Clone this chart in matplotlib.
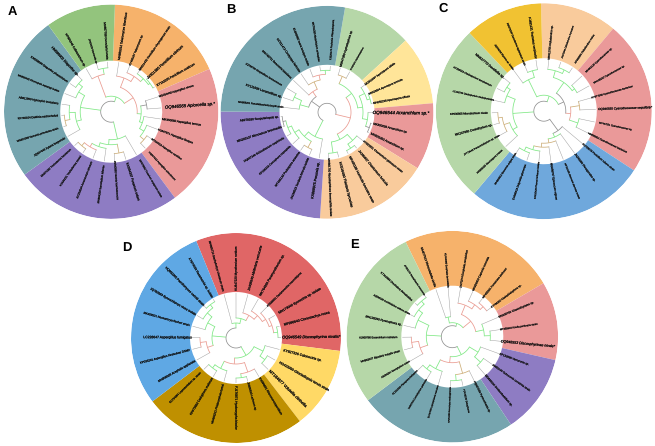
import numpy as np
import matplotlib
matplotlib.use("Agg")
import matplotlib.pyplot as plt
import matplotlib.patheffects as pe
from matplotlib.textpath import TextPath
from matplotlib.font_manager import FontProperties

plt.rcParams["text.hinting"] = "no_hinting"
plt.rcParams["text.hinting_factor"] = 1

W, H, DPI = 655, 446, 100

ORANGE, PINK, PURPLE, TEAL, GREEN = "#f6b26b", "#ea9999", "#8e7cc3", "#76a5af", "#93c47d"
PALE, YELLOW, PEACH, BLUE, AMBER = "#b6d7a8", "#ffe599", "#f9cb9c", "#6fa8dc", "#f1c232"
RED, GOLD, SUN, SKY = "#e06666", "#bf9000", "#ffd966", "#5fa8e4"
BRANCH = {"g": "#7fe884", "r": "#ea9a90", "k": "#909090", "o": "#cdae78"}

# ---- Panel A ----
CENTER_A, OUTER_A, INNER_A = (111.2, 111.7), 107.2, 51
EDGES_A = [88, 23.5, -53.5, -144, -234, -272]
COLORS_A = [ORANGE, PINK, PURPLE, TEAL, GREEN]
ANGLES_A = [81.3, 68, 55.5, 42.6, 29.7, 17.6, 4.3, -8.4, -20.9, -34, -47, -59.6, -72.9, -85.8,
            -98, -111.4, -124.5, -137.2, -150.3, -162.6, -175.8, 171.3, 158.6, 145.6, 132.7, 120.2, 107, 94.3]
TIPS_A = [99.5, 84.5, 105, 99.6, 95, 88, 102, 91, 89, 88, 90, 95, 91, 91,
          90, 91, 88, 92, 87.5, 95, 92, 92, 96, 96, 90, 89.5, 78, 89]
LABELS_A = ["MH855012 Talaromyces islandicus", "KY495187 Talaromyces sp.", "MN511432 Penicillium chrysogenum strain",
            "JX501385 Penicillium citrinum", "KT192205 Penicillium oxalicum", "MG250430 Aspergillus niveus",
            "OQ946565 Apiorcella sp.*", "MK450660 Aspergillus terreus", "KU847871 Aspergillus flavipes",
            "MT530018 Aspergillus candidus", "HQ607922 Aspergillus sclerotiorum", "MF078652 Fusarium oxysporum isolate",
            "KX034337 Fusarium solani", "JN942882 Nectria haematococca", "MH864200 Sarocladium kiliense",
            "KC254034 Acremonium strictum", "KJ439131 Trichoderma reesei", "MK871382 Trichoderma harzianum",
            "JQ647449 Xylaria feejeensis", "MG807389 Nemania primolutea strain", "KF746104 Daldinia eschscholtzii",
            "AB811950 Hypoxylon investiens", "MN856402 Phomopsis asparagi isolate", "KM268690 Diaporthe phaseolorum",
            "HM999902 Diaporthe sp.", "KP900246 Colletotrichum sp.", "JF502429 Glomerella sp.", "MH857788 Curvularia lunata"]
TREE_A = [10.5, "k", [
    [28, "g", [11, [33, "g", [[42, "o", [12, 13]], [37, "g", [14, [41, "r", [15, [45, "o", [16, 17]]]]]]]]]],
    [31, "g", [[36, "g", [18, [42, "g", [[47, "o", [19, 20]], 21]]]], [38, "g", [22, [43, "g", [23, 24]]]]]],
    [15.5, "g", [[38, "r", [25, [44, "g", [26, 27]]]],
                 [26, "r", [[36, "r", [0, [42, "r", [1, [46, "g", [2, [48, "g", [3, 4]]]]]]]],
                            [30, "g", [[36, "k", [5, 6]], [33, "g", [7, [38, "g", [8, [43, "o", [9, 10]]]]]]]]]]]]]]
FOCUS_A = 6

# ---- Panel B ----
CENTER_B, OUTER_B, INNER_B = (327, 112.3), 106.5, 47.5
EDGES_B = [80.2, 42.4, 4.9, -31.7, -93.8, -180.4, -279.8]
COLORS_B = [PALE, YELLOW, PINK, PEACH, PURPLE, TEAL]
ANGLES_B = [73.3, 60.7, 35.9, 23.6, 11, -0.5, -14, -25.9, -38.4, -50.4, -62.9, -75.4, -87.8, -99.7,
            -112.3, -124.7, -137.3, -149.3, -162, -174.5, 173.5, 161.4, 149, 136.4, 124, 111.6, 98.9, 85.9]
TIPS_B = [86, 74, 85, 85, 85.6, 105, 83, 85, 98, 93.5, 100, 95, 106, 85,
          93, 90, 90, 94.6, 95, 87.4, 93.6, 86, 90.6, 88, 88.4, 88.6, 88.4, 88.6]
LABELS_B = ["MN547389 Cyphellophora sp.", "KY620154 Cladophialophora", "MG910497 Aporospora ciliata",
            "MK626504 Aporospora terricola", "MH050226 Aporospora effusa", "OQ946544 Arxanchlum sp.*",
            "MK800256 Arxanchlum sp.", "MK820263 Arxanchlum sp.", "KT923901 Chaetomium globosum strain",
            "JX280837 Chaetomium funicola", "MF405186 Humicola fuscoatra strain", "KU516490 Thielavia hyrcaniae",
            "MH861750 Myceliophthora thermophila isolate", "KX869975 Preussia sp.", "JN198523 Sordaria fimicola isolate",
            "MT446133 Podospora anserina", "KF156318 Cercophora coprophila", "HQ637349 Schizothecium carpinicola",
            "MN203137 Microascus brevicaulis", "AB278180 Scopulariopsis sp.", "MH869201 Pseudallescheria boydii strain",
            "KY111906 Lecanicillium sp.", "JQ758706 Simplicillium lanosoniveum", "MG748731 Beauveria bassiana",
            "KC311473 Cordyceps farinosa", "EU828660 Isaria tenuipes isolate", "MK791283 Metarhizium anisopliae",
            "FJ025174 Pochonia chlamydosporia"]
TREE_B = [9, "k", [
    [27, "g", [13, [33, "g", [[40, "o", [14, 15]], [38, "g", [16, [42, "g", [17, [45, "k", [18, 19]]]]]]]]]],
    [19, "k", [[28, "g", [20, [36, "g", [21, 22]]]], [25, "r", [23, [33, "o", [24, [38, "r", [25, [42, "g", [26, 27]]]]]]]]]],
    [24, "r", [[31, "g", [[39, "o", [0, 1]],
                          [36, "g", [[42, "g", [2, [45, "g", [3, 4]]]], [41, "g", [5, [45, "k", [6, 7]]]]]]]],
               [30, "g", [[38, "g", [8, [43, "g", [9, 10]]]], [41, "g", [11, 12]]]]]]]]
FOCUS_B = 5

# ---- Panel C ----
CENTER_C, OUTER_C, INNER_C = (543.8, 111.2), 108, 53
EDGES_C = [91.5, 50, -33.3, -130.2, -226.5, -268.5]
COLORS_C = [PEACH, PINK, BLUE, PALE, AMBER]
ANGLES_C = [84.5, 70.9, 56.6, 42.7, 29.2, 15.7, 2, -12, -26.3, -40, -53.8, -68, -81.9,
            -95.6, -109, -123.5, -137.1, -151.2, -165, -178.2, 167.7, 154, 140.2, 126.4, 112.6, 98.7]
TIPS_C = [88, 88.4, 88, 89, 89, 96.5, 108, 87.4, 97, 95, 88, 92, 91,
          91, 91, 91.4, 88, 94.5, 92, 91.5, 96, 96, 90.4, 85, 99.5, 95.6]
LABELS_C = ["MK512765 Oidiodendron sp.", "JX270340 Oidiodendron truncatum", "KF856955 Oidiodendron maius",
            "MH862120 Cyanothecaceae sp.", "MN108222 Cyanothecaceae sp.", "KY977536 Cyanothecaceae bacterium",
            "OQ946555 Cyanothecaceae sequilibriy*", "MT447521 Cyanothecaceae sp.", "HM595602 Cyanothecaceae bacterium",
            "KU729078 Penicillium rubens strain", "JN246066 Pleosporales sp.", "MF161186 Alternaria alternata isolate",
            "MG098707 Epicoccum nigrum", "KX610426 Phoma herbarum isolate", "EU686518 Didymella glomerata",
            "MH859812 Boeremia exigua strain", "KR909155 Neurospora crassa", "JF773646 Paraconiothyrium sp. strain",
            "MK247950 Coniothyrium sp.", "KP030805 Microdochium nivale", "LC146735 Cladosporium cladosporioides",
            "KT336523 Cladosporium tenuissimum", "MN627770 Davidiella sp.", "JQ026206 Mycena sp. isolate",
            "KM373240 Ganoderma applanatum strain", "FJ481131 Trametes versicolor"]
TREE_C = [10, "k", [
    [24, "k", [9, [28, "g", [10, [32, "o", [11, [36, "o", [12, [40, "g", [13, [44, "g", [14, 15]]]]]]]]]]]],
    [31, "g", [[36, "g", [16, [42, "o", [17, [46, "o", [18, 19]]]]]], [40, "g", [20, [44, "g", [21, 22]]]]]],
    [16, "g", [[35, "g", [23, [42, "g", [24, 25]]]],
               [22, "k", [[35, "g", [[42, "g", [0, [46, "g", [1, 2]]]], [38, "g", [3, 4]]]],
                          [27, "r", [[36, "o", [5, 6]], [36, "g", [7, 8]]]]]]]]]]
FOCUS_C = 6

# ---- Panel D ----
CENTER_D, OUTER_D, INNER_D = (236, 338), 105, 46
EDGES_D = [112.3, -7.1, -52.5, -142.8, -247.7]
COLORS_D = [RED, SUN, GOLD, SKY]
ANGLES_D = [105.3, 90, 74.7, 60.2, 45.1, 30.2, 15.2, 0.7, -14.8, -29.5, -44.4, -59.3,
            -74.8, -90, -105.5, -120.5, -135.7, -150.7, -165.4, 179.6, 164.8, 150, 134.9, 120.4]
TIPS_D = [98.8, 90.7, 93.6, 93.8, 94.5, 95.3, 94, 105, 85.9, 103.4, 98, 89.5,
          76.3, 90.3, 87.5, 89.4, 89.8, 89, 98, 95, 94.3, 99.3, 100.7, 92.3]
LABELS_D = ["MH865710 Stachybotrys chartarum strain", "KU847220 Myrothecium roridum", "JX406545 Albifimbria verrucaria",
            "MK764994 Paramyrothecium sp.", "KT588601 Dactylonectria macrodidyma", "MN173040 Ilyonectria sp. isolate",
            "MF996640 Clonostachys rosea", "OQ946549 Discosphyrina nivalis*", "KY827326 Calonectria sp.",
            "HG423390 Gliocladiopsis tenuis strain", "MT184877 Volutella citrinella", "KX096691 Rhexocercosporidium",
            "JN995620 Lachnum sp.", "FJ176871 Hyaloscypha bicolor", "MG663221 Phialocephala fortinii",
            "KF673663 Cadophora malorum", "EU754964 Leptodontidium sp. strain", "MH858309 Acephala applanata",
            "KP033201 Aspergillus hiratsukae DSM2", "LC228647 Aspergillus fumigatus", "MK459521 Neosartorya fischeri strain",
            "JQ782683 Byssochlamys nivea isolate", "HQ850365 Paecilomyces variotii strain", "KT874533 Rasamsonia sp. isolate"]
TREE_D = [10, "k", [
    [20, "g", [[30, "g", [8, [36, "g", [9, 10]]]],
               [26, "r", [[36, "r", [11, [40, "g", [12, 13]]]], [34, "g", [14, [38, "g", [15, 16]]]]]]]],
    [24, "g", [[30, "r", [17, [36, "r", [18, 19]]]], [32, "g", [20, [38, "g", [21, [42, "g", [22, 23]]]]]]]],
    [15, "g", [0, [20, "g", [1, [26, "r", [2, [31, "r", [3, [35, "r", [4, [38, "r", [5, [42, "g", [6, 7]]]]]]]]]]]]]]]]
FOCUS_D = 7

# ---- Panel E ----
CENTER_E, OUTER_E, INNER_E = (452.3, 336.7), 105.8, 51
EDGES_E = [116.2, 30.4, -12.8, -56.3, -143, -243.8]
COLORS_E = [ORANGE, PINK, PURPLE, TEAL, PALE]
ANGLES_E = [109.1, 94.9, 80.4, 65.6, 51.7, 36.9, 22.9, 8.5, -5.4, -20, -34.8, -49.2, -63.6,
            -77.8, -92.2, -106.3, -121.1, -135.8, -149.9, -164.7, -179.4, 166.9, 152.2, 138, 123.8]
TIPS_E = [93.5, 86.3, 90.3, 88.9, 89.2, 88.8, 89.8, 89.7, 106.4, 82.7, 97.5, 92.4, 86.3,
          75.7, 87.4, 85.8, 86.4, 86, 84.4, 92.3, 89.7, 88.6, 93, 93.7, 88.2]
LABELS_E = ["MH877512 Rhinocladiella similis", "KU314980 Exophiala dermatitidis", "JX473274 Exophiala xenobiotica",
            "MK929403 Capronia coronata", "MF405331 Fonsecaea pedrosoi", "KY788202 Cladophialophora sp.",
            "MN200782 Chaetothyriales sp.", "MT355622 Knufia perforans strain", "OQ946553 Discosphyrinae nivale*",
            "KP132690 Verruconis sp.", "JN651145 Ochroconis constricta strain", "MG826104 Scolecobasidium sp.",
            "HQ667592 Pyrenochaeta sp.", "FJ478120 Setophoma", "KF251260 Ascochyta medicaginicola",
            "EU167609 Leptosphaeria maculans", "LN907510 Coniothyrium palmicola", "KC311520 Pleospora herbarum",
            "AB369261 Stemphylium solani", "MH863977 Bipolaris maydis strain", "KJ909780 Exserohilum rostratum",
            "MN128290 Pyrenophora sp.", "JQ936328 Cochliobolus sativus strain", "KT310984 Drechslera dematioidea",
            "AY681178 Setosphaeria monoceras"]
TREE_E = [11, "k", [
    [20, "g", [[30, "g", [9, [38, "g", [10, 11]]]],
               [26, "r", [[38, "o", [12, [44, "g", [13, 14]]]], [36, "g", [15, [41, "g", [16, 17]]]]]]]],
    [26, "g", [[34, "r", [18, [41, "r", [19, 20]]]], [38, "g", [21, [43, "g", [22, [47, "g", [23, 24]]]]]]]],
    [14, "g", [[20, "g", [0, 1]],
               [24, "r", [[34, "r", [2, [39, "r", [3, [43, "r", [4, 5]]]]]], [32, "g", [6, [38, "g", [7, 8]]]]]]]]]]
FOCUS_E = 8

PANELS = [
    ("A", (12, 12), CENTER_A, OUTER_A, INNER_A, EDGES_A, COLORS_A, ANGLES_A, TIPS_A, LABELS_A, TREE_A, FOCUS_A),
    ("B", (231, 10), CENTER_B, OUTER_B, INNER_B, EDGES_B, COLORS_B, ANGLES_B, TIPS_B, LABELS_B, TREE_B, FOCUS_B),
    ("C", (443, 9), CENTER_C, OUTER_C, INNER_C, EDGES_C, COLORS_C, ANGLES_C, TIPS_C, LABELS_C, TREE_C, FOCUS_C),
    ("D", (127, 248), CENTER_D, OUTER_D, INNER_D, EDGES_D, COLORS_D, ANGLES_D, TIPS_D, LABELS_D, TREE_D, FOCUS_D),
    ("E", (354, 245), CENTER_E, OUTER_E, INNER_E, EDGES_E, COLORS_E, ANGLES_E, TIPS_E, LABELS_E, TREE_E, FOCUS_E),
]


def leaves_of(node):
    if isinstance(node, int):
        return [node]
    out = []
    for child in node[2]:
        out += leaves_of(child)
    return out


def node_angle(node, theta):
    if isinstance(node, int):
        return theta[node]
    kids = [node_angle(c, theta) for c in node[2]]
    return 0.5 * (kids[0] + kids[-1])


def render(ax, node, parent_r, theta, leaf_end):
    angle = node_angle(node, theta)
    if isinstance(node, int):
        ax.plot([angle, angle], [parent_r, leaf_end], color="#a0a0a0", lw=0.35, solid_capstyle="butt")
        return
    r, colour, children = node
    c = BRANCH[colour]
    if parent_r is not None:
        ax.plot([angle, angle], [parent_r, r], color=c, lw=0.55, solid_capstyle="butt")
    ends = [node_angle(k, theta) for k in children]
    arc = np.linspace(ends[0], ends[-1], 60)
    ax.plot(arc, np.full_like(arc, r), color=c, lw=0.55)
    for k in children:
        render(ax, k, r, theta, leaf_end)


fig = plt.figure(figsize=(W / DPI, H / DPI), dpi=DPI, facecolor="white")
base_font = FontProperties(family="Liberation Sans")
focus_font = FontProperties(family="Liberation Sans", style="italic")

for letter, lpos, centre, outer, inner, edges, colours, angles, tips, labels, tree, focus in PANELS:
    cx, cy = centre
    ax = fig.add_axes([(cx - outer) / W, 1 - (cy + outer) / H, 2 * outer / W, 2 * outer / H], projection="polar")
    ax.set_axis_off()
    edge = np.radians(edges)
    ax.bar((edge[:-1] + edge[1:]) / 2, outer - inner, width=np.abs(np.diff(edge)), bottom=inner,
           color=colours, linewidth=0)

    # unwrap leaf angles in traversal order so that arcs run continuously
    order = leaves_of(tree)
    unwrapped = np.unwrap(np.radians([angles[i] for i in order]))
    theta = {leaf: t for leaf, t in zip(order, unwrapped)}
    render(ax, tree, None, theta, inner - 1)

    for i, (a, tip, s) in enumerate(zip(angles, tips, labels)):
        font = focus_font if i == focus else base_font
        start = inner + 1
        length_pt = (tip - start) * 72 / DPI
        natural = TextPath((0, 0), s, size=1, prop=font).get_extents().width
        size = length_pt / natural
        rot = a + 180 if abs(a) > 90 else a
        ax.text(np.radians(a), (start + tip) / 2, s, fontproperties=font, fontsize=size, color="black",
                rotation=rot, rotation_mode="anchor", ha="center", va="center",
                path_effects=[pe.withStroke(linewidth=0.12, foreground="#222222")])
    ax.set_ylim(0, outer)
    fig.text(lpos[0] / W, 1 - lpos[1] / H, letter, fontsize=9.5, fontweight="bold", family="Liberation Sans",
             ha="center", va="center", color="black")

fig.savefig("out.png", dpi=DPI, facecolor="white")
